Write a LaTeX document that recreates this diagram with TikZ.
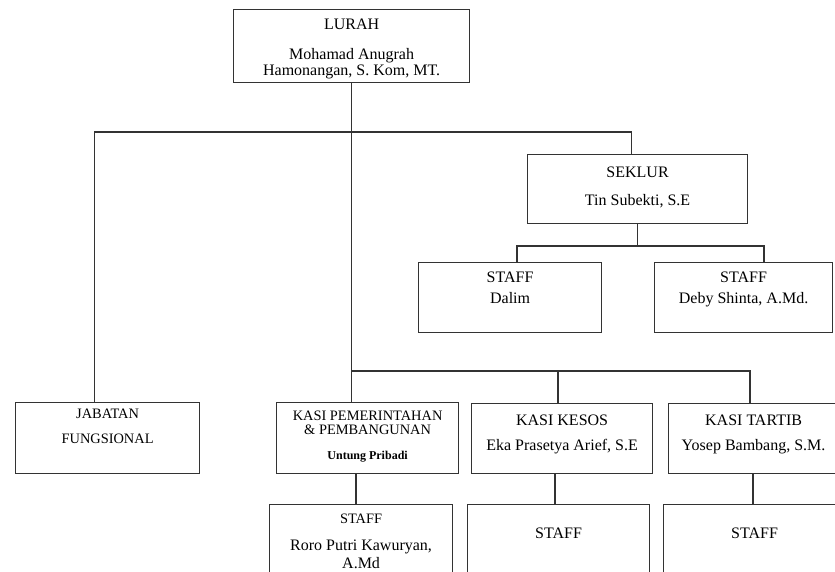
\documentclass[tikz,border=0pt]{standalone}
\usepackage{fontspec}
\setmainfont{Liberation Serif}
\tikzset{
  orgbox/.style={draw=black!80, line width=0.6pt, anchor=north west, inner sep=0pt,
    align=center, font=\fontsize{8}{8}\selectfont},
  smalltext/.style={font=\fontsize{7.2}{7.4}\selectfont},
  link/.style={draw=black!80, line width=0.6pt},
}
\begin{document}
\begin{tikzpicture}[x=0.5pt, y=-0.5pt]
\useasboundingbox (0,0) rectangle (835,572);
% boxes
\node [orgbox, minimum width=118pt, text height=33pt, text depth=3.5pt] (lurah) at (233,9)
  {LURAH\\[7pt] Mohamad Anugrah\\ Hamonangan, S. Kom, MT.};
\node [orgbox, minimum width=110pt, text height=25.5pt, text depth=9pt] (seklur) at (527,154)
  {SEKLUR\\[6pt] Tin Subekti, S.E};
\node [orgbox, minimum width=91.5pt, text height=20.5pt, text depth=14.5pt] (staffa) at (418,262)
  {STAFF\\[2.5pt] Dalim};
\node [orgbox, minimum width=89pt, text height=20.5pt, text depth=14.5pt] (staffb) at (654,262)
  {STAFF\\[2.5pt] Deby Shinta, A.Md.};
\node [orgbox, smalltext, minimum width=92pt, text height=20.5pt, text depth=15pt] (jabatan) at (15,402)
  {JABATAN\\[5pt] FUNGSIONAL};
\node [orgbox, smalltext, minimum width=91pt, text height=28.5pt, text depth=7pt] (kasipem) at (276,402)
  {KASI PEMERINTAHAN\\ \& PEMBANGUNAN\\[5pt] {\fontsize{6}{6}\selectfont\bfseries Untung Pribadi}};
\node [orgbox, minimum width=90.5pt, text height=23.5pt, text depth=11.5pt] (kasikesos) at (471,403)
  {KASI KESOS\\[4.5pt] Eka Prasetya Arief, S.E};
\node [orgbox, minimum width=85pt, text height=23.5pt, text depth=11.5pt] (kasitartib) at (668,403)
  {KASI TARTIB\\[4.5pt] Yosep Bambang, S.M.};
\node [orgbox, minimum width=91.5pt, text height=32pt, text depth=16pt] (staffc) at (269,504)
  {{\fontsize{7.2}{7.2}\selectfont STAFF}\\[5.5pt] Roro Putri Kawuryan,\\[1pt] A.Md};
\node [orgbox, minimum width=91pt, text height=17pt, text depth=31pt] (staffd) at (467,504) {STAFF};
\node [orgbox, minimum width=91pt, text height=17pt, text depth=31pt] (staffe) at (663,504) {STAFF};

% bus points
\coordinate (b1w) at (94.7,132);
\coordinate (b1e) at (631.5,132);
\coordinate (b2m) at (558,371);
\coordinate (b2e) at (750,371);
\coordinate (b3w) at (517,246);
\coordinate (b3e) at (764,246);
\coordinate (drop1) at (356,0);
\coordinate (drop2) at (555,0);
\coordinate (drop3) at (753,0);

% connectors
\draw [link] (lurah.south) -- (lurah.south |- kasipem.north);
\draw [link] (jabatan.north -| b1w) -- (b1w) -- (b1e) -- (seklur.north -| b1e);
\draw [link] (lurah.south |- b2e) -- (b2e) -- (kasitartib.north -| b2e);
\draw [link] (b2m) -- (kasikesos.north -| b2m);
\draw [link] (seklur.south) -- (seklur.south |- b3w);
\draw [link] (staffa.north -| b3w) -- (b3w) -- (b3e) -- (staffb.north -| b3e);
\draw [link] (kasipem.south -| drop1) -- (staffc.north -| drop1);
\draw [link] (kasikesos.south -| drop2) -- (staffd.north -| drop2);
\draw [link] (kasitartib.south -| drop3) -- (staffe.north -| drop3);
\end{tikzpicture}
\end{document}
